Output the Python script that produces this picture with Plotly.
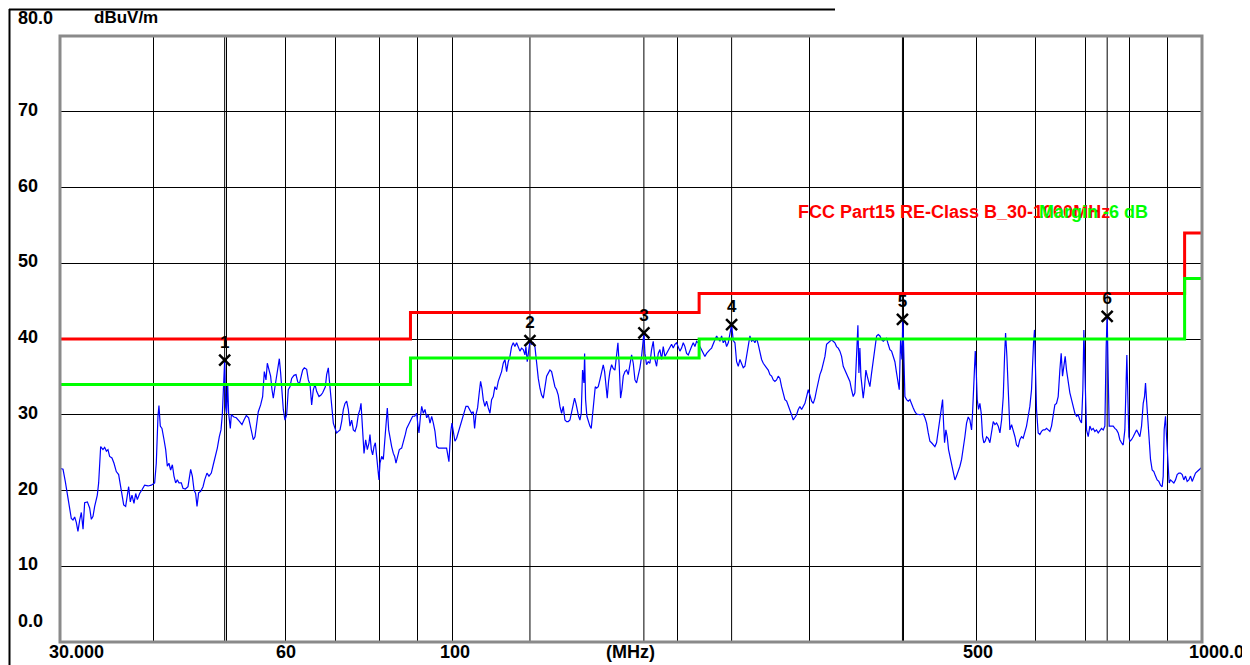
import plotly.graph_objects as go
import math

# ---------------- data ----------------
scan_freq_mhz = [
    30.06, 30.28, 30.49, 30.68, 30.90, 31.06, 31.22, 31.38, 31.54, 31.70,
    31.87, 32.03, 32.20, 32.36, 32.63, 32.86, 33.03, 33.20, 33.37, 33.64,
    33.78, 33.99, 34.23, 34.41, 34.59, 34.76, 34.94, 35.19, 35.41, 35.66,
    35.92, 36.10, 36.29, 36.48, 36.70, 36.89, 37.04, 37.23, 37.42, 37.65,
    37.85, 38.04, 38.31, 38.59, 38.90, 39.31, 39.71, 40.12, 40.32, 40.53,
    40.65, 40.82, 41.03, 41.29, 41.50, 41.71, 41.92, 42.14, 42.36, 42.57,
    42.79, 43.01, 43.23, 43.54, 43.76, 44.08, 44.44, 44.81, 45.04, 45.27,
    45.50, 45.69, 45.92, 46.21, 46.54, 46.78, 47.11, 47.40, 47.74, 48.03,
    48.33, 48.63, 48.93, 49.18, 49.38, 49.59, 49.74, 49.89, 50.04, 50.20,
    50.35, 50.61, 50.77, 51.18, 51.55, 52.08, 52.46, 52.78, 53.16, 53.54,
    53.87,
    54.03, 54.31, 54.59, 54.87, 55.15, 55.55, 55.89, 56.18, 56.47, 56.70,
    56.99, 57.28, 57.52, 57.75, 58.05, 58.35, 58.64, 58.83, 59.07, 59.31,
    59.55, 59.86, 60.17, 60.47, 60.78, 61.10, 61.54, 61.92, 62.23, 62.55,
    62.87, 63.20, 63.52, 63.98, 64.31, 64.64, 64.97, 65.30, 65.64, 65.97,
    66.45, 66.86, 67.20, 67.48, 67.76, 68.03, 68.38, 68.59, 68.87, 69.16,
    69.44, 69.80, 70.15, 70.51, 70.88, 71.24, 71.61, 71.97, 72.34, 72.71,
    73.09, 73.46, 73.84, 74.22, 74.60, 74.98, 75.36, 75.60, 75.91, 76.30,
    76.69, 77.08, 77.48, 77.71, 78.03, 78.35, 78.68, 79.00, 79.32, 79.65,
    79.89, 80.14, 80.55, 80.96, 81.38, 81.63, 81.96, 82.30, 82.64, 83.06,
    83.49, 83.83, 84.17, 84.52, 85.04, 85.65, 86.09, 86.62, 86.98, 87.51,
    88.05, 88.59, 89.14, 89.69, 90.06, 90.33, 90.70, 91.08, 91.54, 92.01,
    92.49, 92.96, 93.44, 93.92, 94.40, 94.88, 95.37, 95.96, 96.85,
    98.32, 99.03, 99.54, 99.95, 100.36, 100.87, 101.39, 102.01, 102.64, 103.27,
    103.80, 104.34, 104.98, 105.63, 106.17, 106.71, 107.15, 107.59, 108.14, 108.69,
    109.14, 109.59, 110.04, 110.60, 111.17, 111.74, 112.32, 112.89, 113.47, 114.05,
    114.64, 115.23, 115.82, 116.41, 117.01, 117.61, 118.22, 118.82, 119.43, 120.04,
    120.66, 121.27, 121.90, 122.53, 123.15, 123.78, 124.43, 125.06, 125.44, 125.95,
    126.47, 127.00, 127.65, 128.31, 128.96, 129.63, 130.29, 130.96, 131.63, 132.31,
    132.99, 133.67, 134.35, 135.04, 135.73, 136.42, 137.12, 137.83, 138.53, 139.25,
    139.96, 140.68, 141.40, 142.13, 142.85, 143.60, 144.33, 145.07, 145.65, 146.27,
    146.87, 147.47, 148.07, 148.66, 149.27, 149.89, 150.21, 150.66, 151.27, 152.05,
    152.67, 153.30, 153.93, 154.56, 155.21, 155.85, 156.63, 157.43, 158.24, 159.06,
    159.73, 160.36, 161.02, 161.68, 162.34, 163.19, 164.03, 164.87, 165.72, 166.39,
    167.07, 167.75, 168.44, 169.15, 170.02, 170.89, 171.75, 172.63, 173.53, 174.41,
    175.32,
    176.20, 177.10, 178.01, 178.93, 179.47, 180.21, 180.77, 181.69, 182.62, 183.56,
    184.50, 185.45, 186.40, 187.36, 188.32, 189.29, 190.26, 191.23, 192.21, 193.20,
    194.19, 195.19, 196.19, 197.20, 198.21, 199.23, 200.25, 201.28, 202.31, 203.35,
    204.39, 205.44, 206.50, 207.56, 208.62, 209.69, 210.77, 211.85, 212.93, 214.02,
    215.12, 216.22, 217.33, 218.46, 219.58, 220.70, 221.83, 222.98, 224.12, 225.28,
    226.43, 227.59, 228.76, 229.93, 231.11, 232.30, 233.49, 234.69, 235.89, 237.10,
    238.32, 239.54, 240.77, 242.01, 243.23, 244.48, 245.73, 246.99, 248.26, 249.55,
    250.81, 252.10, 253.39, 254.71, 256.00, 257.33, 258.65, 259.98, 261.32, 262.63,
    263.98, 265.36, 266.72, 268.09, 269.43, 270.82, 272.21, 273.60, 275.01, 276.42,
    277.84, 279.30, 280.70, 282.13, 283.58, 285.04, 286.50, 288.00, 289.45, 290.93,
    292.46, 293.96, 295.47, 296.98, 298.51, 300.04, 301.58, 303.13, 304.68, 306.25,
    307.79, 309.37, 310.99, 312.55, 314.19,
    315.76, 317.38, 319.01, 320.64, 322.29, 323.94, 325.60, 327.27, 328.95, 330.64,
    332.33, 334.03, 335.75, 337.47, 339.21, 340.95, 342.70, 344.45, 346.22, 347.64,
    348.71, 349.78, 350.86, 352.30, 353.38, 354.83, 356.29, 357.75, 359.22, 360.69,
    362.55, 364.40, 366.28, 368.16, 370.05, 371.95, 373.86, 375.78, 377.71, 379.65,
    381.57, 383.53, 385.50, 387.48, 389.47, 391.49, 393.50, 394.71, 396.33, 397.95,
    399.15, 400.38, 401.64, 403.70, 405.77, 407.85, 409.94, 412.05, 414.16, 416.29,
    420.57, 424.89, 427.08, 429.27, 431.47, 433.69, 435.88, 438.11, 440.36, 442.62,
    444.89, 447.21, 449.47, 450.89, 452.23, 453.63, 455.49, 457.36, 459.23, 461.16,
    463.52, 465.90, 468.29, 470.65, 473.06, 475.54, 477.98, 480.43, 482.84, 485.32,
    487.81, 490.31, 492.83, 494.34, 496.37, 498.47, 499.93, 501.47, 503.53, 505.59,
    507.67, 509.81, 511.84, 513.94, 516.11, 518.70, 521.36, 524.09, 526.78, 529.49,
    532.21, 534.94, 537.69, 540.44, 543.22, 545.40, 547.08, 549.32, 551.57, 554.40,
    557.30, 560.11, 563.04,
    565.80, 568.71, 571.62, 574.56, 577.51, 580.47, 583.44, 586.44, 589.44, 592.47,
    594.29, 596.12, 597.95, 599.79, 601.63, 604.71, 607.83, 610.94, 614.08, 617.23,
    620.39, 623.57, 626.78, 630.00, 633.22, 636.47, 639.74, 643.02, 646.33, 648.97,
    651.65, 654.30, 656.98, 659.71, 663.10, 666.50, 669.92, 673.36, 676.81, 680.29,
    683.74, 687.25, 690.78, 693.61, 695.79, 698.65, 701.51, 705.11, 708.69, 712.32,
    716.02, 719.70, 723.39, 727.10, 730.83, 734.58, 738.35, 742.13, 745.12, 747.41,
    749.77, 752.01, 755.87, 761.37, 765.28, 769.20, 773.15, 777.12, 781.04, 785.05,
    789.08, 791.50, 793.94, 796.38, 798.83, 801.35, 805.40, 809.53, 813.69, 817.92,
    822.05, 826.34, 830.58, 834.84, 838.19, 840.77, 843.35, 846.81, 850.28, 853.78,
    858.16, 862.54, 866.96, 871.41, 875.88, 880.38, 884.89, 887.73, 890.35, 894.01,
    896.86, 900.43, 904.13, 907.94, 912.50, 917.17, 921.87, 926.60, 931.46, 936.14,
    940.95, 945.78, 950.63, 955.51, 960.42, 965.35, 970.31, 975.29, 980.31, 985.34,
    990.40, 998.00,
]

scan_level_dbuv = [
    22.9, 22.8, 21.2, 19.6, 17.9, 16.3, 16.1, 16.5, 15.8, 14.6,
    16.1, 17.1, 14.9, 18.4, 18.5, 17.7, 16.2, 16.6, 17.9, 19.4,
    21.0, 25.8, 25.4, 25.7, 25.2, 25.4, 24.5, 24.3, 23.6, 22.5,
    22.1, 20.7, 19.0, 18.1, 17.9, 19.6, 20.5, 18.5, 19.4, 18.3,
    19.6, 18.8, 19.6, 20.1, 20.7, 20.6, 20.7, 21.0, 23.6, 29.8,
    31.2, 28.5, 28.2, 26.7, 25.4, 23.2, 23.6, 22.7, 23.4, 21.9,
    21.0, 21.4, 21.0, 21.0, 20.3, 20.2, 20.5, 22.8, 21.9, 20.1,
    19.6, 17.9, 19.7, 19.9, 20.5, 21.4, 22.3, 21.9, 22.3, 23.4,
    24.5, 25.6, 27.1, 28.0, 30.0, 34.6, 37.2, 31.0, 30.2, 34.2,
    30.2, 28.2, 30.0, 29.7, 29.6, 29.1, 28.7, 29.3, 29.9, 29.6,
    28.5,
    28.0, 26.7, 27.1, 28.7, 30.4, 31.3, 32.4, 35.7, 34.6, 36.8,
    35.9, 35.1, 33.3, 32.2, 33.7, 35.1, 36.4, 37.4, 35.5, 33.3,
    30.7, 29.3, 30.0, 33.3, 33.7, 34.8, 35.2, 35.3, 34.4, 34.0,
    35.1, 35.9, 36.2, 36.0, 34.6, 34.0, 31.3, 33.3, 34.0, 33.1,
    32.4, 32.6, 32.9, 33.3, 33.7, 35.3, 36.2, 34.6, 32.4, 30.4,
    28.9, 28.2, 27.6, 27.8, 28.0, 29.1, 30.7, 31.5, 31.8, 30.7,
    28.5, 29.3, 28.0, 27.8, 28.5, 30.0, 30.7, 31.5, 28.0, 24.9,
    26.7, 25.4, 26.3, 27.4, 25.4, 24.7, 25.8, 26.3, 24.5, 22.7,
    21.4, 23.6, 24.5, 24.1, 26.7, 28.5, 30.9, 28.0, 26.9, 25.8,
    24.9, 24.5, 23.6, 24.5, 25.4, 25.6, 26.3, 27.4, 28.2, 28.7,
    29.3, 29.8, 29.8, 30.2, 28.5, 27.6, 29.6, 31.1, 30.2, 30.7,
    29.6, 30.0, 28.9, 29.8, 28.9, 27.8, 25.8, 25.6, 25.6,
    25.6, 23.8, 27.6, 28.9, 27.8, 26.5, 26.9, 27.8, 28.7, 29.3,
    30.2, 31.1, 31.1, 30.7, 30.2, 30.4, 28.2, 30.0, 30.9, 32.9,
    34.4, 33.5, 32.0, 31.1, 31.8, 30.9, 30.2, 32.0, 32.4, 33.7,
    33.3, 34.4, 35.1, 35.7, 36.8, 37.3, 35.7, 37.0, 37.7, 39.0,
    39.5, 39.0, 39.5, 39.0, 38.4, 38.8, 38.6, 37.9, 39.0, 37.0,
    38.6, 39.7, 39.3, 39.5, 39.0, 36.8, 34.8, 33.5, 32.6, 32.2,
    33.7, 35.1, 35.5, 35.9, 35.7, 34.8, 33.7, 33.3, 32.6, 31.1,
    30.2, 31.1, 29.3, 29.1, 29.1, 29.3, 30.2, 31.3, 32.2, 31.5,
    30.4, 29.8, 29.3, 30.2, 35.9, 34.2, 38.1, 32.0, 29.8, 28.9,
    28.5, 28.2, 30.2, 32.4, 33.7, 33.5, 33.7, 34.6, 35.7, 36.6,
    35.7, 33.3, 32.2, 34.4, 35.7, 36.6, 36.1, 35.9, 38.1, 39.5,
    36.4, 32.2, 33.3, 35.1, 35.7, 35.9, 35.3, 36.4, 37.9, 36.8,
    34.6,
    34.2, 35.1, 36.2, 37.7, 39.0, 40.8, 38.1, 36.6, 37.0, 36.8,
    38.6, 39.7, 37.3, 36.4, 38.1, 38.6, 37.3, 39.0, 37.7, 38.1,
    38.6, 39.0, 39.3, 38.8, 39.3, 39.5, 39.0, 38.4, 38.8, 39.5,
    39.0, 38.1, 37.9, 38.6, 39.0, 39.5, 39.0, 39.7, 39.5, 39.0,
    38.6, 38.1, 37.7, 38.1, 38.4, 38.6, 38.8, 39.5, 39.9, 40.4,
    40.1, 39.7, 40.4, 39.5, 39.9, 39.0, 39.5, 40.6, 41.9, 39.8,
    39.5, 37.0, 36.4, 37.3, 36.6, 36.2, 36.4, 37.7, 39.0, 40.4,
    39.7, 39.9, 39.5, 40.1, 39.3, 38.1, 37.3, 36.8, 36.4, 36.2,
    35.9, 35.3, 35.1, 34.6, 34.4, 34.6, 35.1, 34.8, 33.7, 32.6,
    32.0, 31.8, 31.1, 30.7, 30.0, 29.3, 29.6, 30.0, 30.7, 31.1,
    30.7, 31.1, 31.5, 32.4, 33.3, 32.6, 31.8, 31.5, 32.2, 33.3,
    34.4, 35.3, 35.9, 36.8, 37.7,
    39.3, 39.5, 39.8, 39.9, 39.7, 39.5, 39.0, 38.8, 38.4, 37.7,
    36.4, 35.9, 35.5, 35.1, 34.4, 33.3, 32.4, 32.9, 37.7, 41.8,
    35.5, 38.8, 35.1, 32.9, 32.2, 33.7, 35.9, 35.1, 34.2, 33.7,
    35.5, 37.3, 39.0, 40.4, 40.6, 40.4, 39.9, 39.7, 39.9, 40.1,
    39.3, 38.6, 38.4, 37.7, 37.0, 35.5, 34.2, 33.3, 39.9, 37.3,
    42.6, 37.3, 32.4, 32.0, 31.8, 32.0, 31.3, 30.9, 30.4, 30.1,
    30.0, 30.1, 29.6, 28.9, 27.6, 26.5, 26.3, 26.0, 25.8, 26.3,
    28.0, 29.3, 30.7, 32.0, 28.9, 26.3, 28.0, 27.1, 25.4, 24.5,
    23.6, 22.3, 21.4, 21.9, 22.5, 23.2, 24.1, 25.4, 27.1, 28.9,
    29.7, 29.3, 28.0, 30.2, 35.5, 38.4, 35.9, 32.0, 30.7, 31.5,
    30.2, 27.1, 26.3, 26.5, 27.1, 26.9, 26.3, 28.0, 29.1, 28.7,
    28.9, 28.5, 27.6, 29.3, 32.4, 37.7, 40.8, 37.7, 32.9, 28.0,
    28.7, 28.0, 27.1,
    26.0, 25.8, 26.7, 27.1, 26.9, 27.6, 28.5, 29.8, 31.1, 33.3,
    37.7, 39.5, 41.2, 36.4, 30.7, 27.6, 27.4, 27.8, 28.0, 28.0,
    28.2, 28.0, 27.8, 28.5, 29.8, 31.3, 31.5, 32.4, 35.9, 38.1,
    35.1, 36.8, 37.7, 35.9, 34.2, 32.9, 32.0, 31.1, 30.2, 29.8,
    30.0, 29.3, 28.9, 33.3, 41.2, 34.2, 28.0, 27.1, 28.5, 28.0,
    28.2, 27.8, 28.0, 27.6, 28.0, 28.2, 28.0, 28.5, 39.0, 43.0,
    35.1, 28.5, 28.5, 28.5, 28.2, 28.0, 27.6, 26.7, 26.3, 26.0,
    28.0, 35.9, 37.9, 32.4, 27.1, 26.5, 26.7, 27.1, 27.6, 28.0,
    27.6, 27.1, 28.5, 31.5, 32.4, 34.2, 32.0, 28.9, 26.3, 24.1,
    22.7, 22.5, 21.9, 21.4, 21.2, 20.7, 20.5, 21.9, 28.0, 29.8,
    27.1, 23.6, 21.0, 21.4, 21.2, 21.0, 21.4, 22.1, 22.3, 22.3,
    22.1, 21.4, 21.9, 21.2, 21.4, 21.9, 21.2, 21.9, 22.3, 22.5,
    22.7, 23.0,
]
assert len(scan_freq_mhz) == len(scan_level_dbuv), (len(scan_freq_mhz), len(scan_level_dbuv))

# FCC Part 15 Class B limit (step line) and margin line
limit_freq_mhz = [30, 88, 88, 213.5, 213.5, 948, 948, 1000]
limit_dbuv = [40, 40, 43.5, 43.5, 46, 46, 54, 54]
margin_db = 6
margin_dbuv = [v - margin_db for v in limit_dbuv]

# markers
marker_ids = ["1", "2", "3", "4", "5", "6"]
marker_freq_mhz = [49.74, 127.0, 180.2, 235.9, 398.6, 747.4]
marker_dbuv = [37.2, 39.8, 40.8, 41.9, 42.6, 43.0]

# axes
x_grid_mhz = [40, 50, 60, 70, 80, 90, 100, 200, 300, 400, 500, 600, 700, 800, 900]
y_grid_db = [10, 20, 30, 40, 50, 60, 70]
y_labels = ["80.0", "70", "60", "50", "40", "30", "20", "10", "0.0"]
y_label_vals = [80, 70, 60, 50, 40, 30, 20, 10, 0]
x_labels = ["30.000", "60", "100", "500", "1000.0"]
x_label_vals = [30, 60, 100, 500, 1000]

limit_name = "FCC Part15 RE-Class B_30-1000MHz"
margin_name = "Margin -6 dB"
unit_label = "dBuV/m"
freq_unit = "(MHz)"

# ---------------- figure ----------------
FONT = "Liberation Sans"
OFF = 8                      # page body margin of the browser
W, H = 1250 - OFF, 665 - OFF
L, T, B = 60 - OFF, 36 - OFF, 23
PW, PH = 1142, 606
R = W - L - PW


def px(page_x):
    return (page_x - 60) / PW


def py(page_y):
    return (642 - page_y) / PH


fig = go.Figure()

for f in marker_freq_mhz:
    fig.add_trace(go.Scatter(x=[f, f], y=[0, 80], mode="lines",
                             line=dict(color="black", width=1),
                             hoverinfo="skip", showlegend=False))

fig.add_trace(go.Scatter(x=scan_freq_mhz, y=scan_level_dbuv, mode="lines",
                         line=dict(color="#0000FF", width=1.2),
                         showlegend=False))

fig.add_trace(go.Scatter(x=limit_freq_mhz, y=limit_dbuv, mode="lines",
                         line=dict(color="#FF0000", width=3), showlegend=False))
fig.add_trace(go.Scatter(x=limit_freq_mhz, y=margin_dbuv, mode="lines",
                         line=dict(color="#00FF00", width=3), showlegend=False))

fig.add_trace(go.Scatter(x=marker_freq_mhz, y=marker_dbuv, mode="markers+text",
                         text=["<b>%s</b>" % m for m in marker_ids],
                         textposition="top center",
                         textfont=dict(family=FONT, size=17, color="black"),
                         marker=dict(symbol="x-thin", size=11, color="black",
                                     line=dict(color="black", width=2.5)),
                         showlegend=False))

fig.update_xaxes(type="log", range=[math.log10(30), math.log10(1000)],
                 tickvals=x_grid_mhz, showticklabels=False, ticks="",
                 showgrid=True, gridcolor="black", gridwidth=1,
                 zeroline=False, showline=False)
fig.update_yaxes(range=[0, 80], tickvals=y_grid_db, showticklabels=False, ticks="",
                 showgrid=True, gridcolor="black", gridwidth=1,
                 zeroline=False, showline=False)

ann = []
for lab, v in zip(y_labels, y_label_vals):
    shift = 2
    if v == 80:
        shift = 18
    elif v == 0:
        shift = 21
    ann.append(dict(text="<b>%s</b>" % lab, xref="paper", yref="y",
                    x=px(16), y=v, xanchor="left", yanchor="middle",
                    yshift=shift, showarrow=False,
                    font=dict(family=FONT, size=18, color="black")))

xshifts = {30: 16, 60: 0, 100: 3, 500: 2, 1000: 14}
for lab, v in zip(x_labels, x_label_vals):
    ann.append(dict(text="<b>%s</b>" % lab, xref="x", yref="paper",
                    x=math.log10(v), y=py(652), xanchor="center", yanchor="middle",
                    xshift=xshifts[v], showarrow=False,
                    font=dict(family=FONT, size=18, color="black")))
ann.append(dict(text="<b>%s</b>" % freq_unit, xref="paper", yref="paper",
                x=px(630), y=py(652), xanchor="center", yanchor="middle",
                showarrow=False, font=dict(family=FONT, size=18, color="black")))
ann.append(dict(text="<b>%s</b>" % unit_label, xref="paper", yref="paper",
                x=px(92), y=py(18), xanchor="left", yanchor="middle",
                showarrow=False, font=dict(family=FONT, size=17, color="black")))
ann.append(dict(text="<b>%s</b>" % limit_name, xref="paper", yref="paper",
                x=px(796), y=py(212), xanchor="left", yanchor="middle",
                showarrow=False, font=dict(family=FONT, size=18, color="#FF0000")))
ann.append(dict(text="<b>%s</b>" % margin_name, xref="paper", yref="paper",
                x=px(1037), y=py(212), xanchor="left", yanchor="middle",
                showarrow=False, font=dict(family=FONT, size=18, color="#00FF00")))

shapes = [
    dict(type="rect", xref="paper", yref="paper", x0=0, x1=1, y0=0, y1=1,
         line=dict(color="#8a8a8a", width=3), layer="above"),
    # outer frame lines (top and left edges of the window frame)
    dict(type="line", xref="paper", yref="paper",
         x0=px(9), x1=px(835), y0=py(9.5), y1=py(9.5),
         line=dict(color="black", width=2)),
    dict(type="line", xref="paper", yref="paper",
         x0=px(9.5), x1=px(9.5), y0=py(9), y1=py(665),
         line=dict(color="black", width=2)),
]

fig.update_layout(width=W, height=H, margin=dict(l=L, r=R, t=T, b=B),
                  paper_bgcolor="white", plot_bgcolor="white",
                  annotations=ann, shapes=shapes, showlegend=False)

fig.write_html("out.html")
